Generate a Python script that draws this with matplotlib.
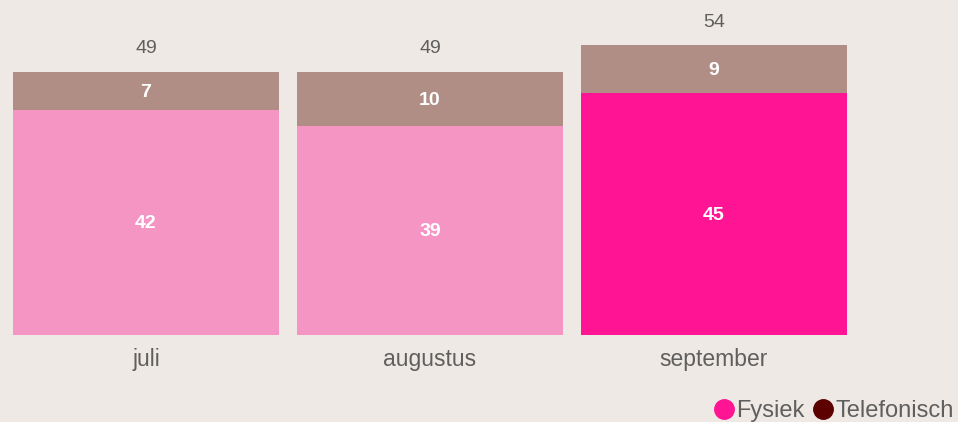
import matplotlib
matplotlib.use("Agg")
import matplotlib.pyplot as plt
from matplotlib.lines import Line2D

plt.rcParams["font.family"] = ["Liberation Sans", "DejaVu Sans"]

# data
maanden = ["juli", "augustus", "september"]
fysiek = [42, 39, 45]
telefonisch = [7, 10, 9]
totaal = [f + t for f, t in zip(fysiek, telefonisch)]

bg = "#EEE9E4"
fysiek_kleuren = ["#F495C3", "#F495C3", "#FF1493"]
tel_kleur = "#B08E86"
grijs = "#5F5F5F"

fig = plt.figure(figsize=(9.58, 4.22), dpi=100, facecolor=bg)
ax = fig.add_axes([0, 0.206, 1, 0.794])
ax.set_facecolor(bg)

x = list(range(len(maanden)))
w = 266 / 284
ax.bar(x, fysiek, width=w, color=fysiek_kleuren)
ax.bar(x, telefonisch, width=w, bottom=fysiek, color=tel_kleur)

for i in x:
    ax.text(i, fysiek[i] / 2 - 0.3, str(fysiek[i]), ha="center", va="center",
            color="white", fontsize=14, fontweight="bold")
    ax.text(i, fysiek[i] + telefonisch[i] / 2 - 0.3, str(telefonisch[i]), ha="center",
            va="center", color="white", fontsize=14, fontweight="bold")
    ax.text(i, totaal[i] + 4.3, str(totaal[i]), ha="center", va="center",
            color=grijs, fontsize=14)
    ax.text(i, -4.6, maanden[i], ha="center", va="center", color=grijs,
            fontsize=16.5, clip_on=False)

ax.set_xlim(-0.514, 2.859)
ax.set_ylim(0, 62.4)
ax.axis("off")

handles = [
    Line2D([], [], marker="o", linestyle="", markersize=14, color="#FF1493"),
    Line2D([], [], marker="o", linestyle="", markersize=14, color="#5C0000"),
]
fig.legend(handles, ["Fysiek", "Telefonisch"], loc="lower right",
           bbox_to_anchor=(1.018, -0.05), ncol=2, frameon=False, fontsize=17,
           handlelength=0.7, handletextpad=0.2, columnspacing=0.4,
           labelcolor=grijs)

fig.savefig("out.png", dpi=100, facecolor=bg)
